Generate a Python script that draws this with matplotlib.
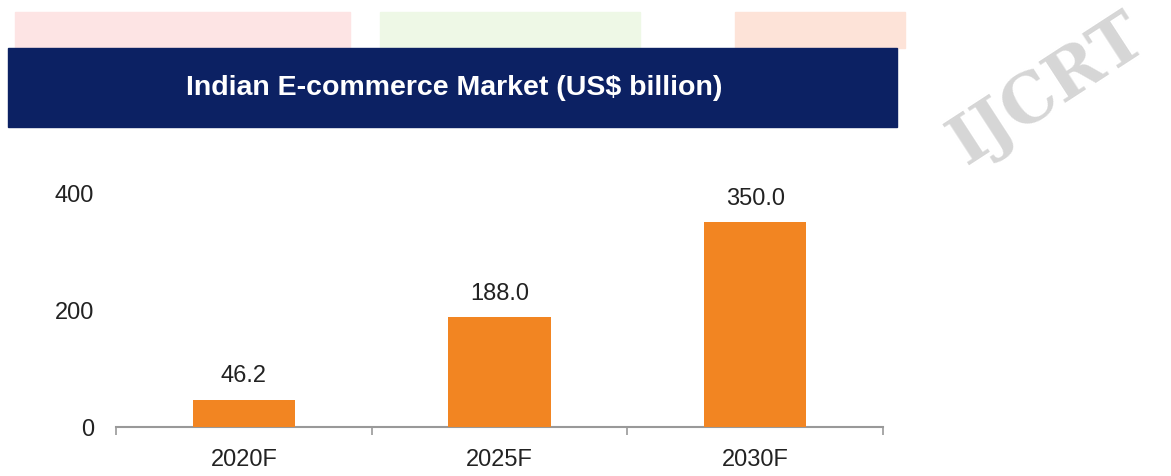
import matplotlib
matplotlib.use('Agg')
import matplotlib.pyplot as plt
from matplotlib.patches import Rectangle

years = ['2020F', '2025F', '2030F']
market_bn = [46.2, 188.0, 350.0]
ytick_vals = [0, 200, 400]
title = 'Indian E-commerce Market (US$ billion)'

plt.rcParams['font.family'] = ['Liberation Sans', 'DejaVu Sans']

W, H = 1171, 476
fig = plt.figure(figsize=(W / 100, H / 100), dpi=100)
fig.patch.set_facecolor('white')

# faint watermark strips behind the title band
for x0, x1, c in [(15, 350, '#fde4e4'), (380, 640, '#eef8e6'), (735, 905, '#fde3d8')]:
    fig.patches.append(Rectangle((x0 / W, 1 - 48 / H), (x1 - x0) / W, 36 / H,
                                 transform=fig.transFigure, color=c, zorder=0))
fig.text(1048 / W, 1 - 90 / H, 'IJCRT', color='#cccccc', fontsize=48, fontweight='bold',
         family='serif', rotation=33, ha='center', va='center', alpha=0.8, zorder=0)

# navy title band
fig.patches.append(Rectangle((8 / W, 1 - 127 / H), 889 / W, 79 / H,
                             transform=fig.transFigure, color='#0c2163', zorder=1))
fig.text(454 / W, 1 - 88 / H, title, color='white', fontsize=20.5, fontweight='bold',
         ha='center', va='center', zorder=2)

ax = fig.add_axes([116 / W, 1 - 427 / H, (883 - 116) / W, (427 - 193) / H])
x = list(range(len(years)))
bars = ax.bar(x, market_bn, width=0.4, color='#f28522', zorder=3)
for b, v in zip(bars, market_bn):
    ax.annotate(f'{v:.1f}', (b.get_x() + b.get_width() / 2, v), xytext=(0, 9),
                textcoords='offset points', ha='center', va='bottom',
                fontsize=17, color='#222222')

ax.set_xlim(-0.5, len(years) - 0.5)
ax.set_ylim(0, 400)
ax.set_yticks(ytick_vals)
ax.set_yticklabels([str(v) for v in ytick_vals], fontsize=17, color='#222222')
ax.tick_params(axis='y', length=0, pad=16)
ax.set_xticks(x)
ax.set_xticklabels(years, fontsize=17, color='#222222')
ax.set_xticks([i - 0.5 for i in range(len(years) + 1)], minor=True)
ax.tick_params(axis='x', which='major', length=0, pad=16)
ax.tick_params(axis='x', which='minor', length=6, width=1.2, color='#999999')

for s in ['top', 'right', 'left']:
    ax.spines[s].set_visible(False)
ax.spines['bottom'].set_color('#999999')
ax.spines['bottom'].set_linewidth(1.5)
ax.patch.set_alpha(0)

fig.savefig('out.png', dpi=100)
